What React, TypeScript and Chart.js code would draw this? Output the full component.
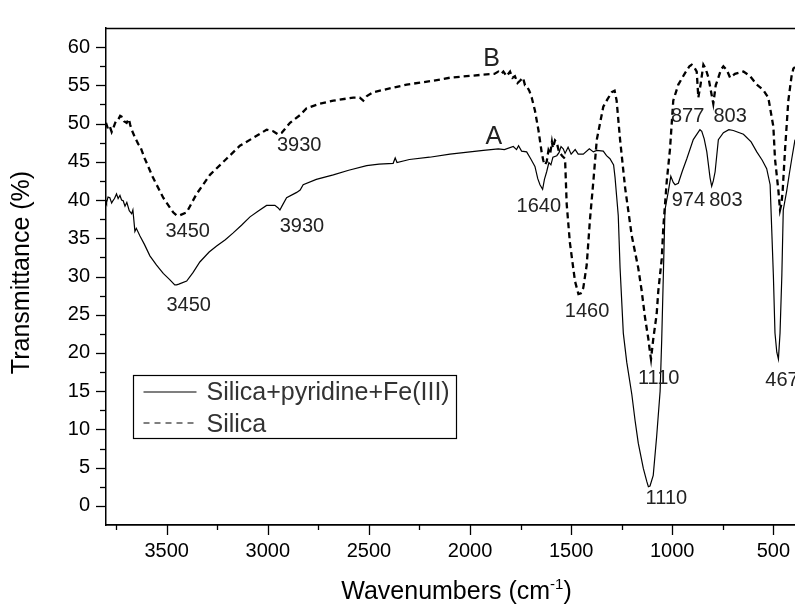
import React, { useEffect, useRef } from 'react';
import { Chart, registerables } from 'chart.js';

Chart.register(...registerables);

// ---- Data (wavenumber in cm-1, transmittance in %) ----
const wavenumbersA = [
  3800, 3797, 3790, 3781, 3772, 3766, 3758, 3748, 3740, 3731, 3723, 3715, 3706, 3697, 3685, 3673, 3667, 3657, 3650, 3632,
  3610, 3583, 3550, 3517, 3485, 3460, 3451, 3440, 3401, 3370, 3336, 3290, 3253, 3210, 3171, 3130, 3088, 3045, 3006, 2965,
  2950, 2940, 2930, 2907, 2857, 2840, 2825, 2760, 2676, 2600, 2511, 2450, 2380, 2370, 2361, 2300, 2200, 2099, 2000, 1934,
  1860, 1830, 1786, 1770, 1760, 1745, 1720, 1700, 1679, 1665, 1654, 1641, 1632, 1621, 1610, 1600, 1590, 1571, 1560, 1550,
  1539, 1530, 1515, 1500, 1480, 1465, 1440, 1410, 1390, 1373, 1341, 1325, 1308, 1290, 1283, 1275, 1267, 1258, 1242, 1225,
  1200, 1184, 1168, 1143, 1126, 1118, 1110, 1094, 1077, 1060, 1052, 1044, 1036, 1019, 1007, 995, 986, 970, 950, 928,
  896, 863, 854, 842, 829, 813, 805, 797, 788, 772, 747, 720, 698, 648, 610, 582, 555, 533, 516, 508,
  500, 492, 483, 475, 467, 458, 451, 434, 420, 409, 393,
];
const transmittanceA = [
  40.0, 39.7, 40.4, 40.3, 39.6, 39.9, 40.2, 40.8, 40.2, 40.6, 40.0, 39.9, 39.2, 39.7, 38.6, 38.2, 38.7, 35.9, 36.3, 35.3,
  34.2, 32.7, 31.5, 30.4, 29.6, 28.9, 28.9, 29.0, 29.4, 30.5, 31.9, 33.2, 34.0, 34.8, 35.7, 36.7, 37.8, 38.6, 39.3, 39.3,
  39.0, 38.7, 39.2, 40.3, 41.0, 41.3, 42.0, 42.7, 43.3, 43.9, 44.5, 44.7, 44.8, 45.5, 44.9, 45.3, 45.6, 46.0, 46.3, 46.5,
  46.7, 46.6, 47.0, 46.6, 47.1, 46.4, 46.3, 45.4, 44.4, 42.8, 42.0, 41.4, 42.7, 43.7, 44.9, 44.6, 45.6, 45.8, 46.2, 47.0,
  46.7, 46.1, 46.9, 46.0, 46.6, 46.0, 46.0, 46.7, 46.3, 46.5, 46.4, 45.8, 45.4, 44.6, 43.0, 40.5, 38.0, 31.1, 22.6, 18.8,
  14.6, 11.2, 8.2, 4.9, 3.2, 2.5, 2.6, 4.0, 9.1, 15.0, 21.8, 30.2, 38.7, 41.2, 43.1, 42.3, 42.0, 42.2, 43.8, 45.4,
  47.9, 49.2, 49.0, 48.0, 46.3, 42.9, 41.8, 42.5, 43.7, 47.9, 48.8, 49.2, 49.1, 48.6, 47.6, 46.3, 45.2, 44.1, 42.0, 36.1,
  30.2, 22.6, 20.1, 19.2, 22.6, 30.2, 38.7, 41.2, 43.6, 45.4, 47.9,
];

const wavenumbersB = [
  3800, 3790, 3781, 3772, 3764, 3756, 3751, 3740, 3730, 3723, 3711, 3698, 3687, 3680, 3673, 3657, 3640, 3632, 3608, 3567,
  3517, 3468, 3451, 3435, 3401, 3352, 3286, 3204, 3138, 3055, 3006, 2973, 2950, 2931, 2890, 2841, 2808, 2742, 2676, 2577,
  2545, 2528, 2510, 2478, 2380, 2313, 2182, 2099, 1934, 1880, 1860, 1845, 1835, 1819, 1802, 1790, 1778, 1765, 1753, 1738,
  1728, 1720, 1707, 1695, 1679, 1662, 1646, 1638, 1630, 1621, 1612, 1604, 1595, 1590, 1580, 1571, 1560, 1545, 1530, 1522,
  1506, 1481, 1464, 1452, 1440, 1423, 1407, 1390, 1373, 1341, 1320, 1299, 1285, 1275, 1258, 1233, 1200, 1168, 1151, 1135,
  1118, 1110, 1105, 1094, 1077, 1069, 1052, 1044, 1027, 1011, 995, 970, 937, 915, 904, 890, 879, 871, 860, 846,
  835, 821, 797, 785, 772, 760, 747, 730, 714, 690, 648, 615, 582, 550, 525, 500, 492, 475, 467, 460,
  454, 442, 426, 410, 401, 393,
];
const transmittanceB = [
  50.1, 49.3, 49.6, 48.9, 49.4, 50.0, 50.3, 50.5, 51.0, 50.9, 50.3, 50.1, 50.6, 49.8, 49.2, 48.2, 47.3, 47.1, 45.4, 42.9,
  40.3, 38.4, 38.0, 38.0, 38.4, 40.8, 43.3, 45.4, 47.1, 48.4, 49.2, 49.0, 48.6, 48.8, 50.1, 51.1, 52.0, 52.6, 53.0, 53.4,
  53.4, 53.0, 53.6, 54.1, 54.7, 55.1, 55.6, 56.0, 56.4, 56.5, 56.8, 56.5, 56.8, 56.2, 56.8, 56.0, 56.2, 55.3, 55.6, 56.0,
  55.0, 54.9, 54.3, 53.4, 51.7, 49.2, 46.3, 45.2, 44.6, 45.0, 46.5, 46.0, 47.6, 46.8, 47.8, 47.5, 46.3, 45.8, 45.4, 39.5,
  34.4, 29.4, 27.7, 27.8, 28.5, 31.5, 37.4, 42.5, 47.9, 52.2, 53.2, 54.1, 54.3, 53.0, 47.9, 41.6, 35.3, 31.1, 28.1, 24.7,
  21.8, 20.1, 19.2, 21.8, 25.1, 28.1, 32.3, 36.5, 42.5, 46.7, 53.0, 55.1, 56.6, 57.5, 57.7, 57.3, 56.8, 53.4, 55.1, 57.7,
  57.2, 56.0, 52.6, 55.0, 56.0, 57.0, 57.5, 57.0, 56.0, 56.5, 56.8, 56.2, 55.1, 54.4, 53.4, 49.6, 45.4, 41.2, 38.7, 39.5,
  41.2, 46.7, 53.0, 56.2, 57.2, 57.4,
];

const seriesNames = ['Silica+pyridine+Fe(III)', 'Silica'];
const xTickValues = [500, 1000, 1500, 2000, 2500, 3000, 3500];
const yTickValues = [0, 5, 10, 15, 20, 25, 30, 35, 40, 45, 50, 55, 60];

const curveTags = ['A', 'B'];
const curveTagWn = [1882, 1893];
const curveTagT = [48.5, 58.7];

const peakTexts = ['3450', '3450', '3930', '3930', '1640', '1460', '877', '803', '974', '803', '1110', '1110', '467'];
const peakWn = [3396, 3391, 2845, 2831, 1660, 1421, 924, 714, 920, 735, 1067, 1029, 457];
const peakT = [36.1, 26.4, 47.4, 36.7, 39.4, 25.7, 51.1, 51.1, 40.2, 40.2, 16.9, 1.2, 16.6];

const FONT = '"Liberation Sans", Arial, Helvetica, sans-serif';

const decorPlugin = {
  id: 'decor',
  afterDraw(chart: any) {
    const { ctx, chartArea, scales } = chart;
    const { left, right, top, bottom } = chartArea;
    const xs = scales.x;
    const ys = scales.y;
    ctx.save();
    ctx.strokeStyle = '#000';
    ctx.fillStyle = '#000';

    // top frame line
    ctx.lineWidth = 1.3;
    ctx.beginPath();
    ctx.moveTo(left, top + 0.5);
    ctx.lineTo(right, top + 0.5);
    ctx.stroke();

    // x tick marks (major + minor)
    ctx.lineWidth = 1.3;
    for (let v = 250; v <= 3750; v += 250) {
      if (v < xs.min || v > xs.max) continue;
      const px = Math.round(xs.getPixelForValue(v)) + 0.5;
      const len = v % 500 === 0 ? 10 : 5;
      ctx.beginPath();
      ctx.moveTo(px, bottom);
      ctx.lineTo(px, bottom + len);
      ctx.stroke();
    }
    // y tick marks
    for (let v = 0; v <= 60; v += 2.5) {
      const py = Math.round(ys.getPixelForValue(v)) + 0.5;
      const len = v % 5 === 0 ? 10 : 6;
      ctx.beginPath();
      ctx.moveTo(left, py);
      ctx.lineTo(left - len, py);
      ctx.stroke();
    }

    // peak annotations
    ctx.textAlign = 'center';
    ctx.textBaseline = 'alphabetic';
    ctx.fillStyle = '#222';
    ctx.font = `20px ${FONT}`;
    peakTexts.forEach((t, i) => {
      const px = xs.getPixelForValue(peakWn[i]);
      const py = ys.getPixelForValue(peakT[i]);
      ctx.fillText(t, px, py + 0.358 * 20);
    });
    ctx.font = `25px ${FONT}`;
    curveTags.forEach((t, i) => {
      const px = xs.getPixelForValue(curveTagWn[i]);
      const py = ys.getPixelForValue(curveTagT[i]);
      ctx.fillText(t, px, py + 0.358 * 25);
    });

    // legend
    const lx = left + 27.5;
    const ly = top + 347.5;
    ctx.lineWidth = 1.2;
    ctx.strokeStyle = '#000';
    ctx.strokeRect(lx, ly, 323, 63);
    ctx.beginPath();
    ctx.moveTo(lx + 10, ly + 16.5);
    ctx.lineTo(lx + 63, ly + 16.5);
    ctx.stroke();
    ctx.setLineDash([6, 5]);
    ctx.beginPath();
    ctx.moveTo(lx + 10, ly + 47.5);
    ctx.lineTo(lx + 63, ly + 47.5);
    ctx.stroke();
    ctx.setLineDash([]);
    ctx.fillStyle = '#333';
    ctx.font = `25px ${FONT}`;
    ctx.textAlign = 'left';
    ctx.fillText(seriesNames[0], lx + 73, ly + 24.5);
    ctx.fillText(seriesNames[1], lx + 73, ly + 56);

    // axis titles
    ctx.fillStyle = '#000';
    ctx.font = `25px ${FONT}`;
    ctx.save();
    ctx.translate(22.5, (top + bottom) / 2 - 4);
    ctx.rotate(-Math.PI / 2);
    ctx.textAlign = 'center';
    ctx.textBaseline = 'middle';
    ctx.fillText('Transmittance (%)', 0, 0);
    ctx.restore();

    const main = 'Wavenumbers (cm';
    const sup = '-1';
    const close = ')';
    ctx.font = `25px ${FONT}`;
    const w1 = ctx.measureText(main).width;
    const w3 = ctx.measureText(close).width;
    ctx.font = `15px ${FONT}`;
    const w2 = ctx.measureText(sup).width;
    const total = w1 + w2 + w3;
    const cx = (left + right) / 2 + 6;
    const base = 599;
    let sx = cx - total / 2;
    ctx.textAlign = 'left';
    ctx.textBaseline = 'alphabetic';
    ctx.font = `25px ${FONT}`;
    ctx.fillText(main, sx, base);
    sx += w1;
    ctx.font = `15px ${FONT}`;
    ctx.fillText(sup, sx, base - 10);
    sx += w2;
    ctx.font = `25px ${FONT}`;
    ctx.fillText(close, sx, base);

    ctx.restore();
  },
};

export default function App() {
  const canvasRef = useRef<HTMLCanvasElement | null>(null);

  useEffect(() => {
    document.body.style.margin = '0';
    const canvas = canvasRef.current;
    if (!canvas) return;
    const chart = new Chart(canvas, {
      type: 'line',
      data: {
        datasets: [
          {
            label: seriesNames[0],
            data: wavenumbersA.map((x, i) => ({ x, y: transmittanceA[i] })),
            borderColor: '#000',
            borderWidth: 1.2,
            pointRadius: 0,
            tension: 0,
            fill: false,
          },
          {
            label: seriesNames[1],
            data: wavenumbersB.map((x, i) => ({ x, y: transmittanceB[i] })),
            borderColor: '#000',
            borderWidth: 2.3,
            borderDash: [6, 4],
            pointRadius: 0,
            tension: 0,
            fill: false,
          },
        ],
      },
      options: {
        animation: false,
        responsive: false,
        devicePixelRatio: 1,
        layout: { padding: { top: 12, right: 0, left: 0, bottom: 0 } },
        plugins: { legend: { display: false }, tooltip: { enabled: false } },
        scales: {
          x: {
            type: 'linear',
            reverse: true,
            min: 393,
            max: 3800,
            afterBuildTicks: (s: any) => {
              s.ticks = xTickValues.map((v) => ({ value: v }));
            },
            afterFit: (s: any) => {
              s.height = 85;
            },
            grid: { display: false, drawTicks: false },
            border: { display: true, color: '#000', width: 1.8 },
            ticks: {
              padding: 14,
              color: '#000',
              maxRotation: 0,
              autoSkip: false,
              font: { family: FONT, size: 20 },
              callback: (v: any) => String(v),
            },
          },
          y: {
            type: 'linear',
            min: -2.5,
            max: 62.5,
            afterBuildTicks: (s: any) => {
              s.ticks = yTickValues.map((v) => ({ value: v }));
            },
            afterFit: (s: any) => {
              s.width = 106;
            },
            grid: { display: false, drawTicks: false },
            border: { display: true, color: '#000', width: 1.5 },
            ticks: {
              padding: 16,
              color: '#000',
              autoSkip: false,
              font: { family: FONT, size: 20 },
              callback: (v: any) => String(v),
            },
          },
        },
      },
      plugins: [decorPlugin],
    });
    return () => chart.destroy();
  }, []);

  return (
    <div style={{ position: 'absolute', left: 0, top: 0, width: 795, height: 610, background: '#fff' }}>
      <canvas ref={canvasRef} width={795} height={610} style={{ display: 'block' }} />
    </div>
  );
}
